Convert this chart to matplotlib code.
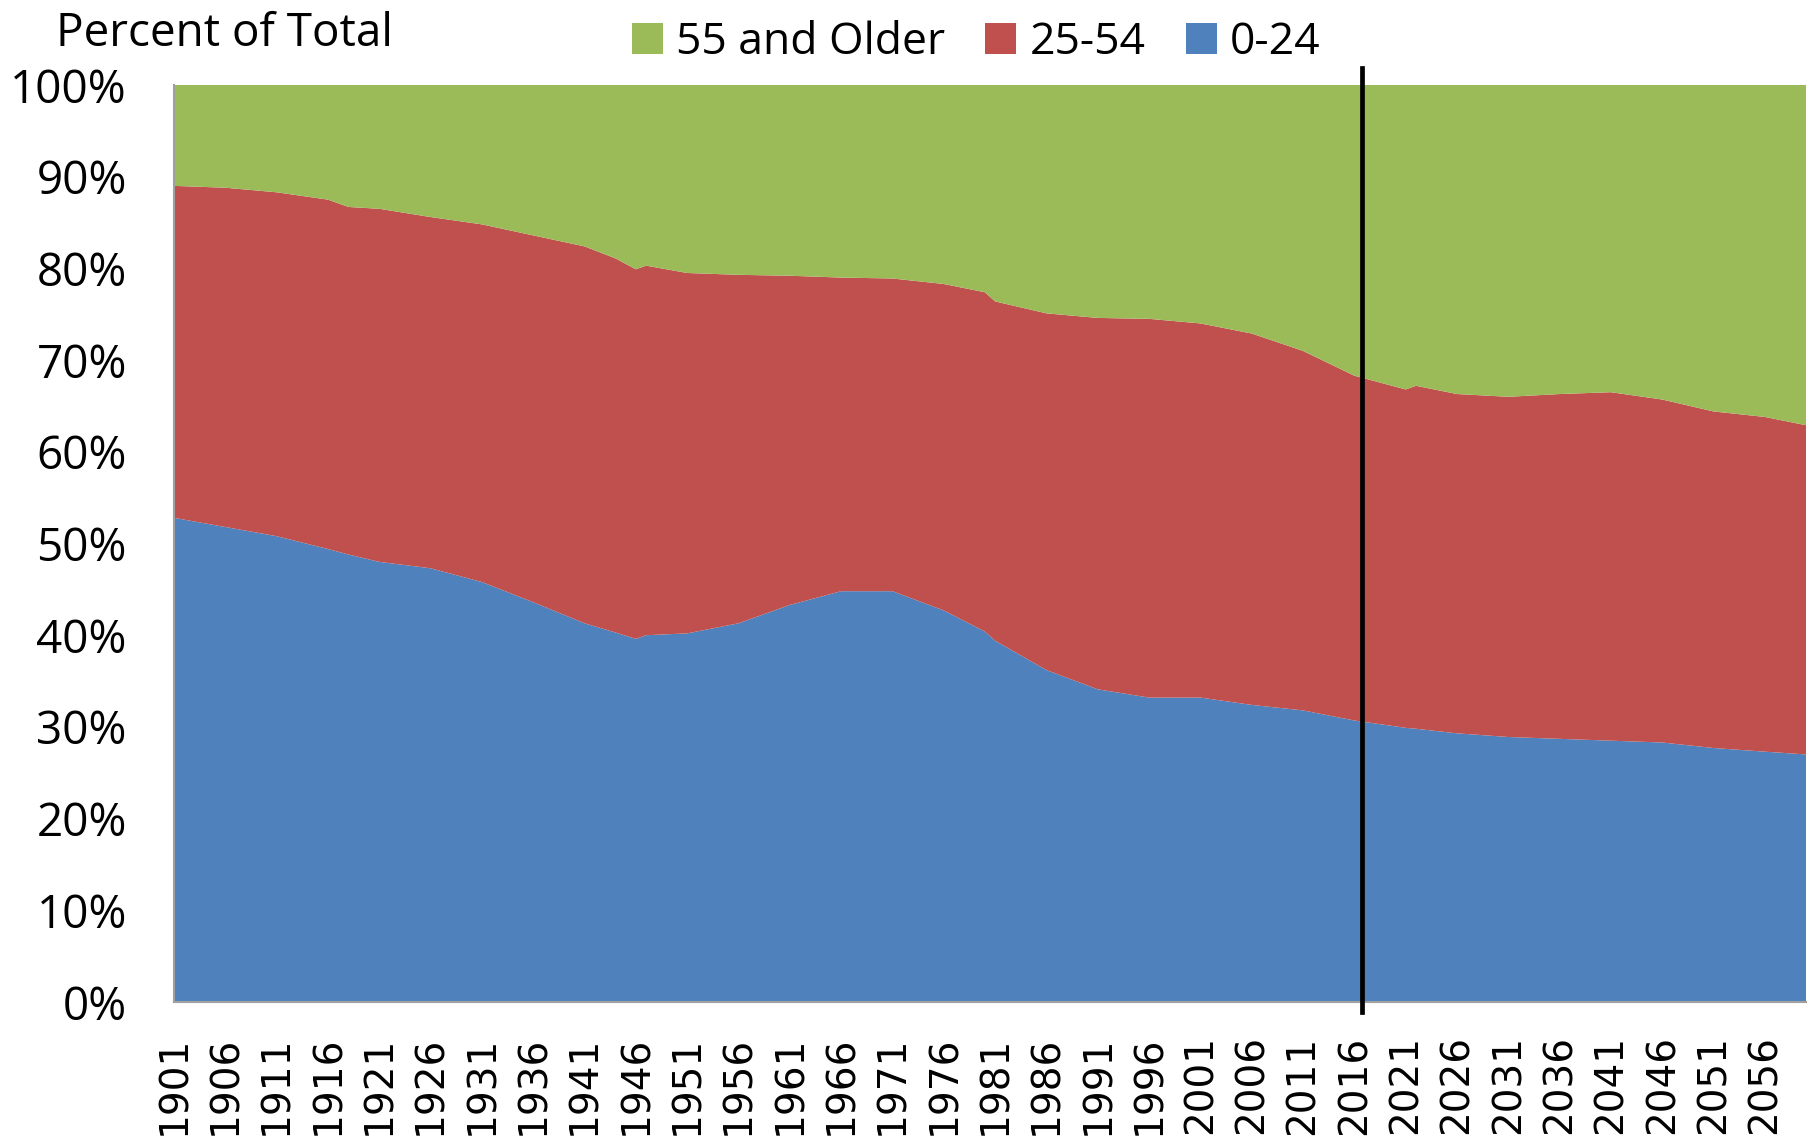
import numpy as np
import matplotlib.pyplot as plt

years = [1901, 1906, 1911, 1916, 1918, 1921, 1926, 1931, 1936, 1941, 1944, 1946, 1947,
         1951, 1956, 1961, 1966, 1971, 1976, 1980, 1981, 1986, 1991, 1996, 2001, 2006,
         2011, 2016, 2021, 2022, 2026, 2031, 2036, 2041, 2046, 2051, 2056, 2060]

# shares in percent
age_0_24 = [52.8, 51.8, 50.8, 49.4, 48.8, 48.0, 47.3, 45.8, 43.6, 41.3, 40.3, 39.6, 40.0,
            40.2, 41.3, 43.3, 44.8, 44.8, 42.7, 40.4, 39.4, 36.2, 34.1, 33.2, 33.2, 32.4,
            31.8, 30.7, 29.9, 29.8, 29.3, 28.9, 28.7, 28.5, 28.3, 27.7, 27.3, 27.0]
age_25_54 = [36.2, 37.0, 37.5, 38.1, 37.9, 38.5, 38.3, 39.0, 40.0, 41.1, 40.8, 40.3, 40.3,
             39.3, 38.0, 35.9, 34.2, 34.1, 35.6, 37.0, 37.0, 38.9, 40.5, 41.3, 40.8, 40.5,
             39.2, 37.6, 36.9, 37.4, 37.0, 37.1, 37.6, 38.0, 37.4, 36.7, 36.5, 35.9]
age_55_up = [11.0, 11.2, 11.7, 12.5, 13.3, 13.5, 14.4, 15.2, 16.4, 17.6, 18.9, 20.1, 19.7,
             20.5, 20.7, 20.8, 21.0, 21.1, 21.7, 22.6, 23.6, 24.9, 25.4, 25.5, 26.0, 27.1,
             29.0, 31.7, 33.2, 32.8, 33.7, 34.0, 33.7, 33.5, 34.3, 35.6, 36.2, 37.1]

tick_years = list(range(1901, 2057, 5))
divider_year = 2016.7

blue = '#4F81BD'
red = '#C0504D'
green = '#9BBB59'

fig = plt.figure(figsize=(18.16, 11.41), dpi=100)
ax = fig.add_axes([0.0958, 0.1218, 0.8987, 0.8037])

ax.stackplot(years, age_0_24, age_25_54, age_55_up, colors=[blue, red, green],
             labels=['0-24', '25-54', '55 and Older'], linewidth=0)

ax.plot([divider_year, divider_year], [-1.1, 101.9], color='black', lw=3.4, clip_on=False, zorder=5)

ax.set_xlim(1901, 2060)
ax.set_ylim(0, 100)
ax.set_yticks(range(0, 101, 10))
ax.set_yticklabels([f'{v}%' for v in range(0, 101, 10)], fontsize=33, family='Open Sans')
ax.set_xticks(tick_years)
ax.set_xticklabels([str(y) for y in tick_years], rotation=90, fontsize=28, family='DejaVu Sans')
ax.tick_params(axis='both', length=0)
ax.tick_params(axis='y', pad=34)
ax.tick_params(axis='x', pad=24)

for s in ['top', 'right']:
    ax.spines[s].set_visible(False)
for s in ['left', 'bottom']:
    ax.spines[s].set_color('#A0A0A0')
    ax.spines[s].set_linewidth(1.5)

fig.text(0.031, 0.970, 'Percent of Total', fontsize=33, family='Open Sans', va='center', ha='left')

handles, labels = ax.get_legend_handles_labels()
leg = fig.legend(handles[::-1], labels[::-1], loc='center', bbox_to_anchor=(0.5376, 0.9624),
                 ncol=3, frameon=False, prop={'family': 'Open Sans', 'size': 32},
                 handlelength=0.7, handleheight=0.7, handletextpad=0.3, columnspacing=0.9)

fig.savefig('out.png', dpi=100)
